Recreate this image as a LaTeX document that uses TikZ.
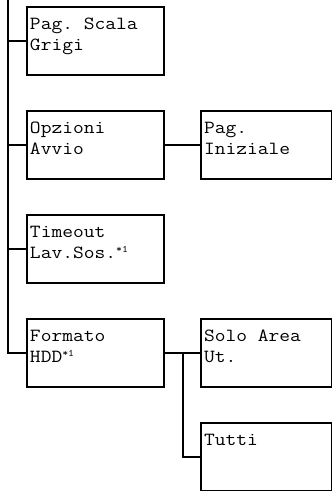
\documentclass[tikz,border=0pt]{standalone}
\usepackage{fontspec}
\newfontfamily\cour[FakeStretch=1.13]{Latin Modern Mono}
\newcommand{\fnm}{{\fontsize{10}{10}\selectfont\raisebox{6pt}{*1}}}
\newcommand{\msp}{\phantom{x}}
\begin{document}
\begin{tikzpicture}[x=1pt,y=-1pt,
  box/.style={draw, line width=2pt, anchor=north west, minimum width=137pt,
    inner xsep=3pt, inner ysep=0pt, text width=131pt, align=left,
    text height=22pt, text depth=46pt,
    font=\cour\fontsize{18.5}{21}\selectfont},
  rbox/.style={box, minimum width=131pt, text width=125pt},
  conn/.style={line width=2pt}]
\useasboundingbox (0,0) rectangle (332,491);
\node[box] (b1) at (26,6) {Pag.\msp Scala\\Grigi};
\node[box] (b2) at (26,110) {Opzioni\\Avvio};
\node[box] (b3) at (26,214) {Timeout\\Lav.Sos.\fnm};
\node[box] (b4) at (26,318) {Formato\\HDD\fnm};
\node[rbox] (p1) at (200,110) {Pag.\\Iniziale};
\node[rbox] (s1) at (200,318) {Solo\msp Area\\Ut.};
\node[rbox] (t1) at (200,422) {Tutti};
\coordinate (top) at (7.5,0);
\coordinate (j1) at (7.5,0 |- b1.west);
\coordinate (j2) at (7.5,0 |- b2.west);
\coordinate (j3) at (7.5,0 |- b3.west);
\coordinate (j4) at (7.5,0 |- b4.west);
\coordinate (k1) at (183,0 |- s1.west);
\coordinate (k2) at (183,0 |- t1.west);
\draw[conn] (top) -- (j4) -- (b4.west);
\draw[conn] (j1) -- (b1.west);
\draw[conn] (j2) -- (b2.west);
\draw[conn] (j3) -- (b3.west);
\draw[conn] (b2.east) -- (p1.west);
\draw[conn] (b4.east) -- (s1.west);
\draw[conn] (k1) -- (k2) -- (t1.west);
\end{tikzpicture}
\end{document}
